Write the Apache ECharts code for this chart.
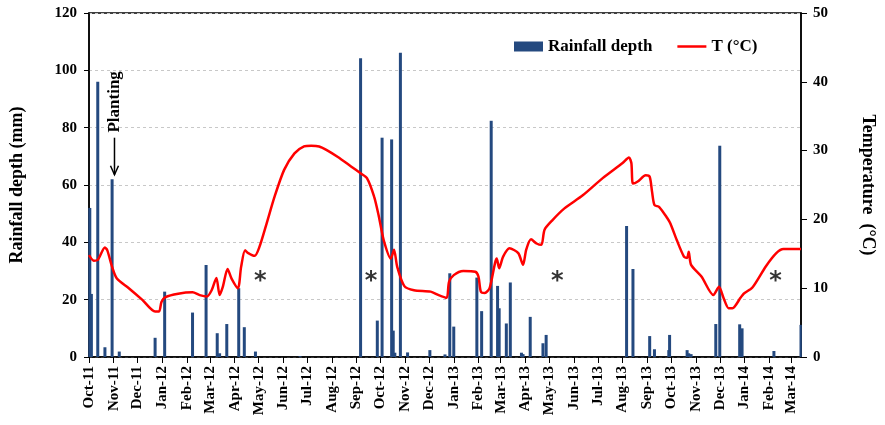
<!DOCTYPE html>
<html><head><meta charset="utf-8">
<script src="https://cdn.jsdelivr.net/npm/echarts@6/dist/echarts.min.js"></script>
<style>html,body{margin:0;padding:0;background:#fff}#c{width:885px;height:425px}</style>
</head><body><div id="c"></div>
<script>
// ---- data ----
const rainDates = ['2011-10-02','2011-10-04','2011-10-12','2011-10-21','2011-10-30','2011-11-08','2011-12-23',
  '2012-01-04','2012-02-08','2012-02-25','2012-03-10','2012-03-13','2012-03-22','2012-04-06','2012-04-13','2012-04-27',
  '2012-06-22','2012-09-06','2012-09-27','2012-10-03','2012-10-15','2012-10-17','2012-10-19','2012-10-26','2012-11-04',
  '2012-12-02','2012-12-21','2012-12-27','2013-01-01','2013-01-30','2013-02-05','2013-02-17','2013-02-25','2013-02-27',
  '2013-03-08','2013-03-13','2013-03-27','2013-03-29','2013-04-07','2013-04-23','2013-04-27','2013-08-06','2013-08-14',
  '2013-09-04','2013-09-10','2013-09-28','2013-09-29','2013-10-21','2013-10-23','2013-10-26','2013-11-26','2013-12-01',
  '2013-12-26','2013-12-29','2014-02-07','2014-03-13'];
const rainValues = [52,22,96,3.4,62,1.9,6.7,
  22.8,15.5,32.1,8.3,1.3,11.5,24,10.4,1.9,
  0.3,104.2,12.7,76.5,75.9,9.2,1.5,106.1,1.6,
  2.4,0.9,29.2,10.6,27.7,16,82.4,24.8,17,
  11.7,26,1.5,1.0,14,4.8,7.7,45.7,30.7,
  7.3,2.7,2.4,7.7,2.4,1.3,1.0,11.5,73.7,
  11.4,10,2.1,11.2];
const tempDates = ['2011-10-01','2011-10-07','2011-10-12','2011-10-21','2011-10-24','2011-10-30','2011-11-05','2011-11-20',
  '2011-12-07','2011-12-23','2011-12-28','2011-12-31','2012-01-05','2012-01-21','2012-02-08','2012-02-17','2012-02-26',
  '2012-03-03','2012-03-09','2012-03-13','2012-03-17','2012-03-23','2012-03-28','2012-04-05','2012-04-09','2012-04-14',
  '2012-04-18','2012-04-26','2012-05-02','2012-05-11','2012-05-21','2012-06-02','2012-06-15','2012-06-27','2012-07-06',
  '2012-07-16','2012-07-25','2012-08-08','2012-08-25','2012-09-06','2012-09-14','2012-09-23','2012-09-29','2012-10-05',
  '2012-10-14','2012-10-18','2012-10-22','2012-10-31','2012-11-12','2012-12-03','2012-12-13','2012-12-23','2012-12-26',
  '2013-01-01','2013-01-13','2013-01-28','2013-02-01','2013-02-04','2013-02-09','2013-02-15','2013-02-24','2013-02-27',
  '2013-03-04','2013-03-12','2013-03-23','2013-03-29','2013-04-02','2013-04-08','2013-04-15','2013-04-21','2013-04-25',
  '2013-05-05','2013-05-20','2013-06-12','2013-07-07','2013-08-01','2013-08-09','2013-08-12','2013-08-14','2013-08-20',
  '2013-08-30','2013-09-04','2013-09-07','2013-09-10','2013-09-16','2013-09-26','2013-09-30','2013-10-08','2013-10-17',
  '2013-10-21','2013-10-23','2013-10-26','2013-11-08','2013-11-23','2013-11-30','2013-12-06','2013-12-12','2013-12-17',
  '2013-12-27','2013-12-31','2014-01-11','2014-01-28','2014-02-10','2014-02-19','2014-02-28','2014-03-13'];
const tempValues = [14.8,14.0,14.1,15.9,15.5,13.1,11.4,10.0,
  8.3,6.6,6.6,8.0,8.7,9.2,9.4,9.0,8.8,
  9.7,11.5,9.0,10.2,12.8,11.4,10.0,13.1,15.5,
  15.1,14.7,16.0,19.4,23.3,27.2,29.6,30.6,30.7,
  30.6,30.1,29.1,27.7,26.7,26.0,23.3,20.4,17.0,
  14.3,15.6,13.1,10.3,9.7,9.5,9.0,8.6,10.9,
  11.9,12.5,12.4,11.7,9.5,9.3,10.0,14.3,12.9,
  14.6,15.8,15.1,13.4,15.6,17.1,16.5,16.3,18.5,
  19.9,21.6,23.5,26.0,28.2,29.0,28.2,25.2,25.5,
  26.4,26.2,24.0,22.1,21.8,20.2,19.4,17.0,14.6,
  14.4,15.3,13.4,11.7,9.0,10.2,8.5,7.1,7.1,
  8.6,9.2,10.1,13.2,15.1,15.7,15.7,15.7];
const monthTicks = ['2011-10-01','2011-11-01','2011-12-01','2012-01-01','2012-02-01','2012-03-01','2012-04-01','2012-05-01',
  '2012-06-01','2012-07-01','2012-08-01','2012-09-01','2012-10-01','2012-11-01','2012-12-01','2013-01-01','2013-02-01',
  '2013-03-01','2013-04-01','2013-05-01','2013-06-01','2013-07-01','2013-08-01','2013-09-01','2013-10-01','2013-11-01',
  '2013-12-01','2014-01-01','2014-02-01','2014-03-01'];
const monthNames = ['Jan','Feb','Mar','Apr','May','Jun','Jul','Aug','Sep','Oct','Nov','Dec'];
const starDates = ['2012-05-03','2012-09-19','2013-05-11','2014-02-09'];
const starLevel = 27.5;
const axisStart = '2011-10-01', axisEnd = '2014-03-13';

function ts(s){ const p = s.split('-'); return new Date(+p[0], +p[1]-1, +p[2]).getTime(); }
const FONT = '"Liberation Serif","Times New Roman",serif';

const chart = echarts.init(document.getElementById('c'));
const tickTs = monthTicks.map(ts);
chart.setOption({
  animation: false,
  textStyle: { fontFamily: FONT, fontWeight: 'bold', color: '#000' },
  grid: { left: 89, right: 80, top: 13, bottom: 68, show: true, borderColor: '#000', borderWidth: 1.5, backgroundColor: 'transparent' },
  legend: {
    data: [
      { name: 'Rainfall depth', icon: 'rect' },
      { name: 'T (°C)', icon: 'path://M0,0 L0,0 Z M0,3.8 L30,3.8 L30,6.2 L0,6.2 Z M30,10 L30,10 Z' }
    ],
    left: 509, top: 33, itemWidth: 29, itemHeight: 10, itemGap: 25,
    textStyle: { fontFamily: FONT, fontWeight: 'bold', fontSize: 17, color: '#000' }
  },
  xAxis: {
    type: 'value', min: ts(axisStart), max: ts(axisEnd),
    axisLine: { lineStyle: { color: '#000', width: 1.5 } },
    axisTick: { show: true, length: 6, lineStyle: { color: '#000' }, customValues: tickTs },
    axisLabel: {
      customValues: tickTs, rotate: 90, margin: 9, fontSize: 15, fontWeight: 'bold', fontFamily: FONT, color: '#000',
      formatter: function (v) { const d = new Date(v); return monthNames[d.getMonth()] + '-' + String(d.getFullYear()).slice(2); }
    },
    splitLine: { show: false }
  },
  yAxis: [
    {
      type: 'value', min: 0, max: 120, interval: 20, position: 'left',
      name: 'Rainfall depth (mm)', nameLocation: 'middle', nameGap: 63,
      nameTextStyle: { fontFamily: FONT, fontWeight: 'bold', fontSize: 18, color: '#000' },
      axisLine: { show: true, lineStyle: { color: '#000', width: 1.5 } },
      axisTick: { show: true, length: 5, lineStyle: { color: '#000' } },
      axisLabel: { margin: 12, fontSize: 15, fontWeight: 'bold', fontFamily: FONT, color: '#000' },
      splitLine: { show: true, lineStyle: { color: '#c8c8c8', type: [3, 3], width: 1 } }
    },
    {
      type: 'value', min: 0, max: 50, interval: 10, position: 'right',
      name: 'Temperature  (°C)', nameLocation: 'middle', nameGap: 58, nameRotate: -90,
      nameTextStyle: { fontFamily: FONT, fontWeight: 'bold', fontSize: 18, color: '#000' },
      axisLine: { show: true, lineStyle: { color: '#000', width: 1.5 } },
      axisTick: { show: true, length: 6, lineStyle: { color: '#000' } },
      axisLabel: { margin: 12, fontSize: 15, fontWeight: 'bold', fontFamily: FONT, color: '#000' },
      splitLine: { show: false }
    }
  ],
  series: [
    {
      name: 'Rainfall depth', type: 'bar', yAxisIndex: 0, barWidth: 3,
      itemStyle: { color: '#24497F' },
      data: rainDates.map((d, i) => [ts(d), rainValues[i]])
    },
    {
      name: 'T (°C)', type: 'line', yAxisIndex: 1, symbol: 'none', smooth: 0.25,
      lineStyle: { color: '#FF0000', width: 2.5 }, itemStyle: { color: '#FF0000' },
      data: tempDates.map((d, i) => [ts(d), tempValues[i]])
    },
    {
      name: 'stars', type: 'scatter', yAxisIndex: 0, symbolSize: 1, silent: true,
      itemStyle: { color: 'rgba(0,0,0,0)' },
      label: { show: true, position: 'inside', formatter: '*', fontSize: 24, fontWeight: 'bold', fontFamily: '"DejaVu Sans",sans-serif', color: '#000', offset: [0, 4] },
      data: starDates.map(d => [ts(d), starLevel])
    }
  ]
});

// Planting annotation placed in data coordinates
const tip = chart.convertToPixel({ xAxisIndex: 0, yAxisIndex: 0 }, [ts('2011-11-02'), 63.6]);
const tail = chart.convertToPixel({ xAxisIndex: 0, yAxisIndex: 0 }, [ts('2011-11-02'), 76.5]);
const txt = chart.convertToPixel({ xAxisIndex: 0, yAxisIndex: 0 }, [ts('2011-11-02'), 89]);
chart.setOption({
  graphic: [
    { type: 'line', shape: { x1: tail[0], y1: tail[1], x2: tip[0], y2: tip[1] }, style: { stroke: '#000', lineWidth: 1.5 } },
    { type: 'polyline', shape: { points: [[tip[0]-4, tip[1]-9], [tip[0], tip[1]], [tip[0]+4, tip[1]-9]] }, style: { stroke: '#000', lineWidth: 1.5, fill: null } },
    { type: 'text', x: txt[0], y: txt[1], rotation: Math.PI / 2,
      style: { text: 'Planting', fontFamily: FONT, fontWeight: 'bold', fontSize: 17, fill: '#000', align: 'center', verticalAlign: 'middle' } }
  ]
});
</script></body></html>
